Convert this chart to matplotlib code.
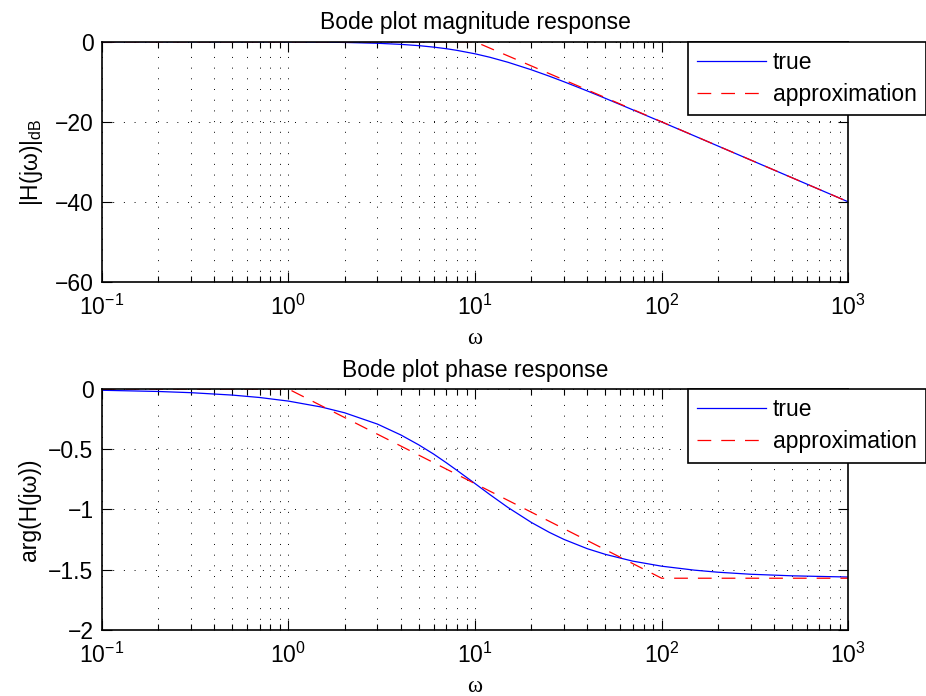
import matplotlib
matplotlib.use('Agg')
import matplotlib.pyplot as plt
from matplotlib.ticker import LogLocator, NullFormatter

omega = [0.1, 0.2, 0.3, 0.5, 0.7, 1, 1.5, 2, 3, 4, 5, 6, 7, 8, 10, 12, 15,
         20, 25, 30, 40, 50, 70, 100, 150, 200, 300, 500, 700, 1000]

mag_true = [0.0, -0.002, -0.004, -0.011, -0.021, -0.043, -0.097, -0.17,
            -0.38, -0.65, -0.97, -1.34, -1.73, -2.15, -3.01, -3.87, -5.12,
            -6.99, -8.6, -10.0, -12.3, -14.15, -17.0, -20.04, -23.53,
            -26.03, -29.55, -33.98, -36.9, -40.0]

phase_true = [-0.01, -0.02, -0.03, -0.05, -0.07, -0.1, -0.149, -0.197,
              -0.291, -0.381, -0.464, -0.54, -0.611, -0.675, -0.785, -0.876,
              -0.983, -1.107, -1.19, -1.249, -1.326, -1.373, -1.429, -1.471,
              -1.504, -1.521, -1.538, -1.551, -1.556, -1.561]

# straight-line approximations
mag_apx_w = [0.1, 10, 1000]
mag_apx = [0, 0, -40]
phase_apx_w = [0.1, 1, 100, 1000]
phase_apx = [0, 0, -1.571, -1.571]

FS = 16.5

plt.rcParams['font.family'] = ['Liberation Sans', 'DejaVu Sans']
plt.rcParams['mathtext.fontset'] = 'custom'
plt.rcParams['mathtext.rm'] = 'Liberation Sans'
plt.rcParams['mathtext.it'] = 'Liberation Sans:italic'
plt.rcParams['font.size'] = FS

fig = plt.figure(figsize=(9.26, 6.96), dpi=100)
ax1 = fig.add_axes([0.110, 0.595, 0.806, 0.345])
ax2 = fig.add_axes([0.110, 0.095, 0.806, 0.346])

GRID = dict(color='black', linestyle=(0, (1, 10)), linewidth=0.7)


def style_axes(ax, yticks, ylim):
    ax.set_xscale('log')
    ax.set_xlim(0.1, 1000)
    ax.set_ylim(*ylim)
    ax.set_yticks(yticks)
    ax.xaxis.set_major_locator(LogLocator(base=10, numticks=10))
    ax.xaxis.set_minor_locator(LogLocator(base=10, subs=range(2, 10), numticks=20))
    ax.xaxis.set_minor_formatter(NullFormatter())
    ax.tick_params(which='both', direction='in', top=True, right=True, width=0.8)
    ax.tick_params(which='major', length=7, labelsize=FS)
    ax.tick_params(axis='x', which='major', pad=9)
    ax.tick_params(axis='y', which='major', pad=6)
    ax.tick_params(which='minor', length=4)
    ax.grid(True, which='major', axis='both', **GRID)
    ax.grid(True, which='minor', axis='x', **GRID)
    for s in ax.spines.values():
        s.set_linewidth(1.2)
    ax.set_xlabel('ω', family=['Liberation Serif', 'DejaVu Serif'], fontsize=FS, labelpad=6)


ax1.plot(omega, mag_true, color='blue', linewidth=0.9, label='true')
ax1.plot(mag_apx_w, mag_apx, color='red', linewidth=0.9, dashes=(11, 8), label='approximation')
style_axes(ax1, [-60, -40, -20, 0], (-60, 0))
ax1.set_title('Bode plot magnitude response', fontsize=FS, pad=9)
ax1.set_ylabel('|H(jω)|$_{\\mathrm{dB}}$', labelpad=7)

ax2.plot(omega, phase_true, color='blue', linewidth=0.9, label='true')
ax2.plot(phase_apx_w, phase_apx, color='red', linewidth=0.9, dashes=(11, 8), label='approximation')
style_axes(ax2, [-2, -1.5, -1, -0.5, 0], (-2, 0))
ax2.set_yticklabels(['−2', '−1.5', '−1', '−0.5', '0'])
ax2.set_title('Bode plot phase response', fontsize=FS, pad=9)
ax2.set_ylabel('arg(H(jω))', labelpad=5)

for ax in (ax1, ax2):
    leg = ax.legend(loc='upper left', bbox_to_anchor=(0.785, 1.0), frameon=True,
                    fancybox=False, edgecolor='black', framealpha=1,
                    handlelength=3.0, borderpad=0.4, labelspacing=0.4,
                    handletextpad=0.3, borderaxespad=0.0, fontsize=FS)
    leg.get_frame().set_linewidth(1.2)

fig.savefig('out.png', dpi=100)
